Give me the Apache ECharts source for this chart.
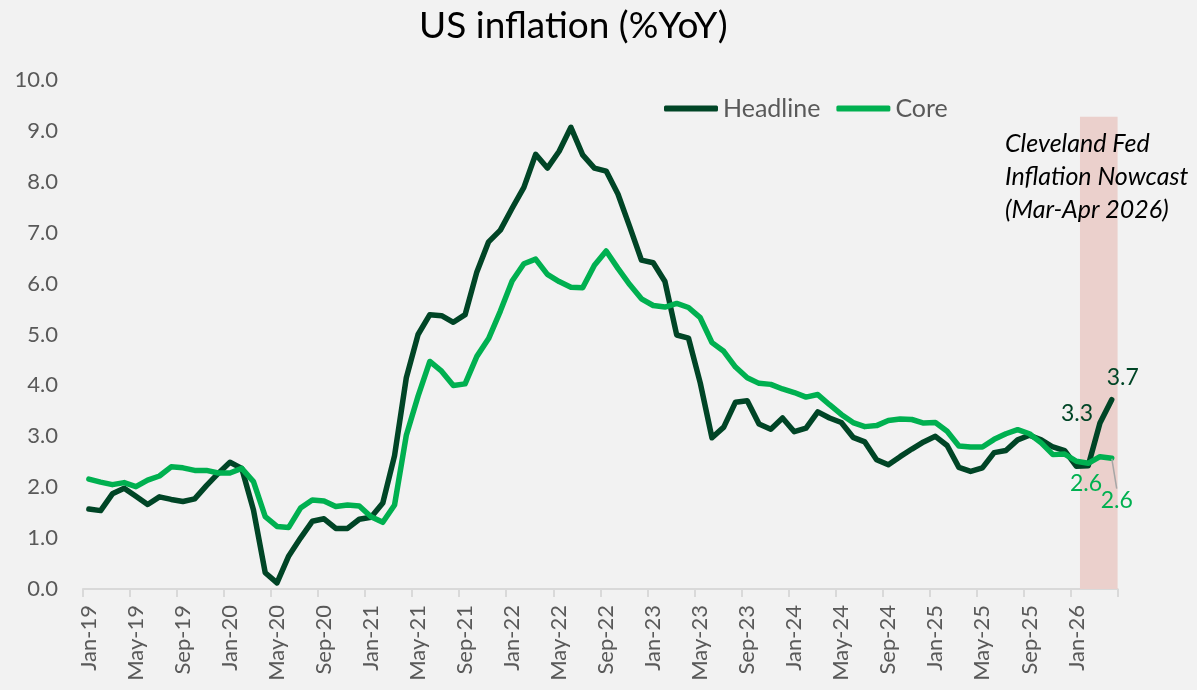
<!DOCTYPE html>
<html>
<head>
<meta charset="utf-8">
<script src="https://cdn.jsdelivr.net/npm/echarts@6/dist/echarts.min.js"></script>
<style>
html,body{margin:0;padding:0;background:#f2f2f2;}
#chart{width:1197px;height:690px;}
</style>
</head>
<body>
<div id="chart"></div>
<script>
// ---- data ----
const monthNames = ['Jan','Feb','Mar','Apr','May','Jun','Jul','Aug','Sep','Oct','Nov','Dec'];
const years = ['19','20','21','22','23','24','25','26'];
const lastYearMonths = 4; // Jan-26 .. Apr-26
const categories = [];
years.forEach(function (y, yi) {
  const n = yi === years.length - 1 ? lastYearMonths : 12;
  for (let m = 0; m < n; m++) categories.push(monthNames[m] + '-' + y);
});

const headline = [
  1.57, 1.54, 1.87, 1.98, 1.82, 1.66, 1.81, 1.76, 1.72, 1.77, 2.03, 2.27,
  2.49, 2.37, 1.55, 0.32, 0.12, 0.65, 1.00, 1.33, 1.38, 1.19, 1.19, 1.37,
  1.41, 1.69, 2.62, 4.15, 5.00, 5.39, 5.37, 5.24, 5.39, 6.23, 6.82, 7.05,
  7.48, 7.89, 8.54, 8.27, 8.60, 9.07, 8.53, 8.27, 8.21, 7.76, 7.12, 6.46,
  6.41, 6.04, 4.99, 4.93, 4.05, 2.97, 3.18, 3.67, 3.70, 3.24, 3.14, 3.36,
  3.09, 3.16, 3.48, 3.36, 3.27, 2.98, 2.89, 2.54, 2.44, 2.60, 2.75, 2.89,
  3.00, 2.82, 2.39, 2.31, 2.38, 2.68, 2.72, 2.93, 3.02, 2.93, 2.79, 2.72,
  2.41, 2.42, 3.26, 3.72
];
const core = [
  2.16, 2.10, 2.05, 2.09, 2.01, 2.14, 2.22, 2.40, 2.38, 2.33, 2.33, 2.28,
  2.28, 2.37, 2.11, 1.42, 1.23, 1.21, 1.59, 1.75, 1.73, 1.62, 1.65, 1.63,
  1.42, 1.31, 1.65, 3.02, 3.79, 4.47, 4.28, 4.00, 4.03, 4.57, 4.92, 5.46,
  6.05, 6.39, 6.48, 6.18, 6.04, 5.93, 5.92, 6.36, 6.64, 6.30, 5.98, 5.70,
  5.57, 5.54, 5.61, 5.53, 5.33, 4.84, 4.67, 4.36, 4.15, 4.04, 4.02, 3.93,
  3.86, 3.77, 3.82, 3.62, 3.43, 3.27, 3.19, 3.21, 3.31, 3.34, 3.33, 3.26,
  3.27, 3.10, 2.81, 2.79, 2.79, 2.94, 3.05, 3.13, 3.05, 2.87, 2.64, 2.65,
  2.51, 2.47, 2.60, 2.57
];
const yTicks = { min: 0, max: 10, interval: 1 };
const nowcastBand = { from: 84.8, to: 88.4, top: 9.28 }; // in month-boundary units
const headlineLabelIdx = [86, 87];
const coreLabelIdx = [86, 87];

// ---- styling ----
const DARK = '#004526';
const GREEN = '#00B050';
const GREY = '#595959';
const FONT = 'Lato';

function withLabels(values, idxs, color) {
  return values.map(function (v, i) {
    if (idxs.indexOf(i) < 0) return v;
    return {
      value: v,
      label: {
        show: true, position: 'inside',
        formatter: function (p) { return p.value.toFixed(1); },
        color: color, fontFamily: FONT, fontSize: 23
      }
    };
  });
}

const labelShifts = {
  '1-86': { dx: -23, dy: -9 },
  '1-87': { dx: 11, dy: -22 },
  '2-86': { dx: -14, dy: 27 },
  '2-87': { dx: 5, dy: 42 }
};

const chart = echarts.init(document.getElementById('chart'), null, { renderer: 'canvas' });
chart.setOption({
  backgroundColor: '#f2f2f2',
  animation: false,
  title: {
    text: 'US inflation (%YoY)',
    left: 414, top: 3,
    textStyle: { fontFamily: FONT, fontSize: 37, fontWeight: 'normal', color: '#000' }
  },
  legend: {
    left: 659, top: 91,
    icon: 'roundRect',
    itemWidth: 54, itemHeight: 6, itemGap: 16,
    textStyle: { fontFamily: FONT, fontSize: 25, color: GREY },
    data: ['Headline', 'Core']
  },
  grid: { left: 83, right: 79.4, top: 80, bottom: 101, containLabel: false },
  xAxis: [{
    type: 'category',
    data: categories,
    boundaryGap: true,
    axisLine: { lineStyle: { color: '#d9d9d9', width: 2 } },
    axisTick: { show: true, interval: 3, length: 8, lineStyle: { color: '#d9d9d9', width: 2 } },
    axisLabel: {
      interval: 3, rotate: 90, margin: 16,
      fontFamily: FONT, fontSize: 22, color: GREY
    }
  }, {
    type: 'value', min: 0, max: categories.length, show: false
  }],
  yAxis: {
    type: 'value',
    min: yTicks.min, max: yTicks.max, interval: yTicks.interval,
    axisLine: { show: false }, axisTick: { show: false },
    splitLine: { show: false },
    axisLabel: {
      margin: 25, fontFamily: FONT, fontSize: 22, color: GREY,
      formatter: function (v) { return v.toFixed(1); }
    }
  },
  graphic: [{
    type: 'text', left: 1005, top: 127, silent: true, z: 100,
    style: {
      text: 'Cleveland Fed\nInflation Nowcast\n(Mar-Apr 2026)',
      font: 'italic 25px Lato', fill: '#000', lineHeight: 33
    }
  }],
  series: [
    {
      name: 'band', type: 'line', xAxisIndex: 1, data: [], clip: false,
      silent: true, z: 0,
      markArea: {
        silent: true,
        itemStyle: { color: '#ebd0cc' },
        data: [[{ xAxis: nowcastBand.from, yAxis: 0 }, { xAxis: nowcastBand.to, yAxis: nowcastBand.top }]]
      }
    },
    {
      name: 'Headline', type: 'line', symbol: 'circle', symbolSize: 1, showSymbol: true, z: 3,
      lineStyle: { color: DARK, width: 5.5, cap: 'round', join: 'round' },
      itemStyle: { color: DARK },
      labelLayout: function (p) {
        return labelShifts[p.seriesIndex + '-' + p.dataIndex];
      },
      data: withLabels(headline, headlineLabelIdx, DARK)
    },
    {
      name: 'Core', type: 'line', symbol: 'circle', symbolSize: 1, showSymbol: true, z: 4,
      lineStyle: { color: GREEN, width: 5.5, cap: 'round', join: 'round' },
      itemStyle: { color: GREEN },
      labelLayout: function (p) {
        return labelShifts[p.seriesIndex + '-' + p.dataIndex];
      },
      data: withLabels(core, coreLabelIdx, GREEN).map(function (d, i) {
        if (i === core.length - 1) {
          d.labelLine = { show: true, lineStyle: { color: '#a6a6a6', width: 1.5 } };
        }
        return d;
      })
    }
  ]
});
</script>
</body>
</html>
